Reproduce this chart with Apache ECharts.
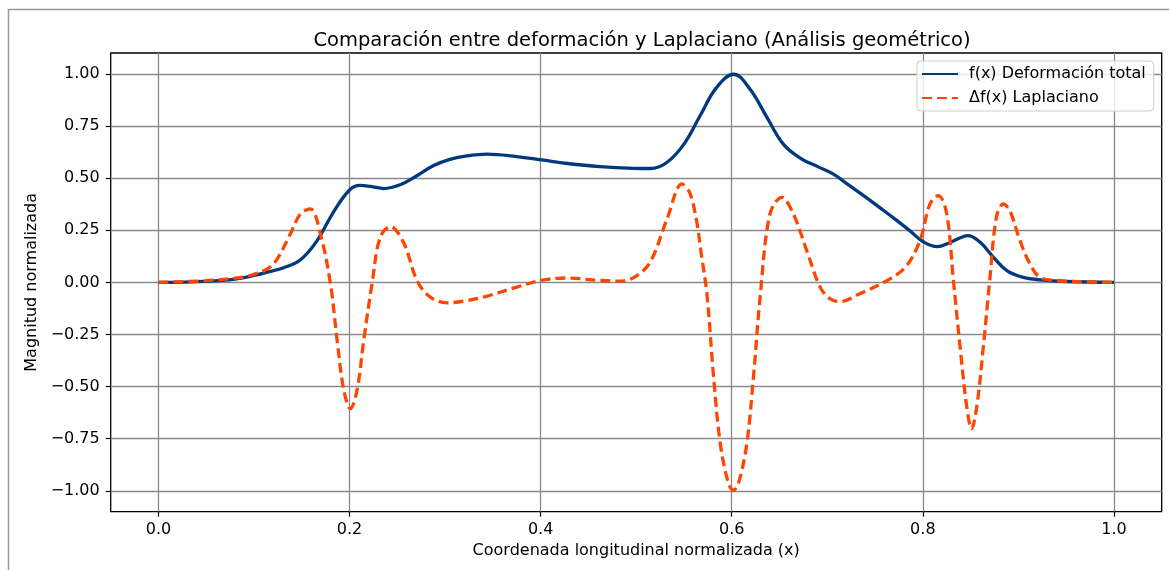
<!DOCTYPE html>
<html>
<head>
<meta charset="utf-8">
<script src="https://cdn.jsdelivr.net/npm/echarts@6/dist/echarts.min.js"></script>
<style>html,body{margin:0;padding:0;background:#fff;}#c{width:1169px;height:570px;}</style>
</head>
<body>
<div id="c"></div>
<script>
// f(x) Deformación total
const fX = [0,0.05,0.08,0.1,0.115,0.131,0.149,0.166,0.183,0.2,0.211,0.222,0.236,0.253,0.27,0.288,0.305,0.323,0.344,0.375,0.401,0.428,0.462,0.497,0.515,0.532,0.55,0.567,0.584,0.602,0.619,0.637,0.654,0.672,0.69,0.706,0.72,0.738,0.756,0.773,0.787,0.8,0.815,0.828,0.84,0.847,0.86,0.874,0.888,0.905,0.923,0.95,1.0];
const fY = [0,0.005,0.015,0.033,0.05,0.07,0.11,0.2,0.336,0.443,0.465,0.46,0.45,0.468,0.51,0.56,0.59,0.607,0.615,0.603,0.587,0.57,0.555,0.547,0.546,0.575,0.663,0.8,0.934,0.998,0.927,0.79,0.663,0.595,0.555,0.52,0.475,0.416,0.355,0.296,0.245,0.196,0.171,0.19,0.215,0.224,0.192,0.12,0.056,0.024,0.012,0.004,0];
// Δf(x) Laplaciano
const lX = [0,0.05,0.08,0.096,0.114,0.124,0.138,0.1485,0.159,0.1695,0.18,0.187,0.194,0.2008,0.2078,0.2148,0.2235,0.232,0.2427,0.2566,0.2706,0.2845,0.302,0.32,0.34,0.375,0.4,0.4275,0.4623,0.483,0.5,0.515,0.532,0.548,0.556,0.563,0.568,0.574,0.581,0.588,0.5966,0.6018,0.607,0.6158,0.6227,0.63,0.64,0.6524,0.6645,0.6785,0.6925,0.703,0.7134,0.734,0.7657,0.783,0.797,0.8075,0.8163,0.825,0.832,0.839,0.846,0.851,0.8564,0.8633,0.87,0.877,0.8842,0.891,0.9017,0.912,0.9226,0.94,0.97,1.0];
const lY = [0,0.008,0.02,0.033,0.065,0.11,0.232,0.328,0.352,0.232,-0.007,-0.279,-0.518,-0.606,-0.518,-0.279,-0.007,0.216,0.267,0.19,0.009,-0.071,-0.098,-0.09,-0.071,-0.023,0.009,0.021,0.009,0.006,0.03,0.1,0.3,0.472,0.43,0.3,0.14,-0.055,-0.454,-0.773,-0.965,-0.997,-0.965,-0.773,-0.454,-0.055,0.328,0.408,0.328,0.152,-0.023,-0.079,-0.092,-0.055,0.017,0.08,0.2,0.376,0.416,0.328,0.009,-0.311,-0.598,-0.702,-0.598,-0.311,0.009,0.312,0.376,0.344,0.2,0.089,0.024,0.009,0.002,0];
const xTicks = [0,0.2,0.4,0.6,0.8,1.0];
const yTicks = [-1,-0.75,-0.5,-0.25,0,0.25,0.5,0.75,1];

const font = 'DejaVu Sans';
const fData = fX.map((x,i)=>[x,fY[i]]);
const lData = lX.map((x,i)=>[x,lY[i]]);
const chart = echarts.init(document.getElementById('c'));
chart.setOption({
  animation:false,
  backgroundColor:'#fff',
  graphic:[{type:'rect',shape:{x:8.5,y:9.5,width:1300,height:700},style:{fill:'none',stroke:'#999',lineWidth:1.5},silent:true,z:-10}],
  title:{text:'Comparación entre deformación y Laplaciano (Análisis geométrico)',left:637,textAlign:'center',top:26,
    textStyle:{fontFamily:font,fontSize:19.5,fontWeight:'normal',color:'#000'}},
  legend:{left:917,top:61,orient:'vertical',itemWidth:36,itemHeight:16,itemGap:8,
    borderColor:'#cfcfcf',borderWidth:1,borderRadius:4,padding:[5,8,5,4],backgroundColor:'rgba(255,255,255,0.8)',
    itemStyle:{opacity:0},
    textStyle:{fontFamily:font,fontSize:16,color:'#000',padding:[0,0,0,6]},
    data:['f(x) Deformación total','Δf(x) Laplaciano']},
  grid:{left:110.7,top:53,right:7.3,bottom:58.3,show:true,borderColor:'#000',borderWidth:1.3,backgroundColor:'transparent'},
  xAxis:{type:'value',min:-0.05,max:1.05,
    name:'Coordenada longitudinal normalizada (x)',nameLocation:'middle',nameGap:31,
    nameTextStyle:{fontFamily:font,fontSize:16,color:'#000'},
    axisLine:{show:false,onZero:false},
    axisTick:{show:true,inside:false,length:5,lineStyle:{color:'#000',width:1.2},customValues:xTicks},
    axisLabel:{fontFamily:font,fontSize:16,color:'#000',margin:10,customValues:xTicks,formatter:v=>v.toFixed(1)},
    splitLine:{show:true,lineStyle:{color:'#8a8a8a',width:1.3}}},
  yAxis:{type:'value',min:-1.1,max:1.1,
    name:'Magnitud normalizada',nameLocation:'middle',nameGap:66,
    nameTextStyle:{fontFamily:font,fontSize:16,color:'#000'},
    axisLine:{show:false,onZero:false},
    axisTick:{show:true,inside:false,length:5,lineStyle:{color:'#000',width:1.2},customValues:yTicks},
    axisLabel:{fontFamily:font,fontSize:16,color:'#000',margin:11,customValues:yTicks,
      formatter:v=>(v<0?'\u2212':'')+Math.abs(v).toFixed(2)},
    splitLine:{show:true,lineStyle:{color:'#8a8a8a',width:1.3}}},
  series:[
    {name:'f(x) Deformación total',type:'line',data:fData,smooth:0.4,symbol:'none',
      lineStyle:{color:'#003a7d',width:3.3},itemStyle:{color:'#003a7d'},z:3},
    {name:'Δf(x) Laplaciano',type:'line',data:lData,smooth:0.35,symbol:'none',
      lineStyle:{color:'#ff4500',width:3.3,type:[10,5]},itemStyle:{color:'#ff4500'},z:4}
  ]
});
</script>
</body>
</html>
